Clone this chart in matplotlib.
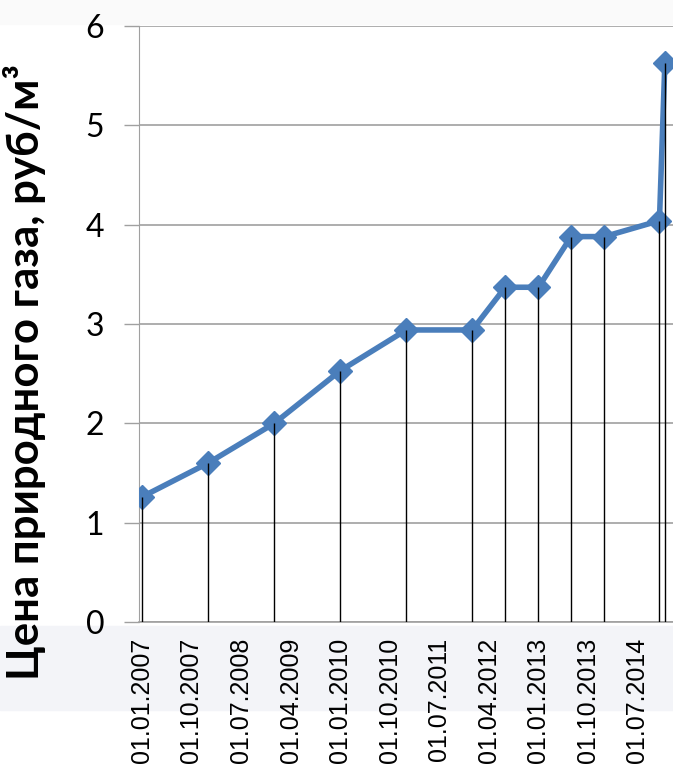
import datetime as dt
import matplotlib
matplotlib.use("Agg")
import matplotlib.pyplot as plt
from matplotlib.patches import Rectangle

# gas price by date (rub / m3)
dates = ["01.01.2007", "01.01.2008", "01.01.2009", "01.01.2010", "01.01.2011",
         "01.01.2012", "01.07.2012", "01.01.2013", "01.07.2013", "01.01.2014",
         "01.11.2014", "01.12.2014"]
prices = [1.26, 1.60, 2.00, 2.53, 2.94, 2.94, 3.37, 3.37, 3.88, 3.88, 4.04, 5.63]

tick_dates = ["01.01.2007", "01.10.2007", "01.07.2008", "01.04.2009", "01.01.2010",
              "01.10.2010", "01.07.2011", "01.04.2012", "01.01.2013", "01.10.2013",
              "01.07.2014"]
y_ticks = [0, 1, 2, 3, 4, 5, 6]
ylabel = "Цена природного газа, руб/м³"

x = [dt.datetime.strptime(d, "%d.%m.%Y") for d in dates]
xt = [dt.datetime.strptime(d, "%d.%m.%Y") for d in tick_dates]

fig = plt.figure(figsize=(6.73, 7.73), dpi=100)
fig.patch.set_facecolor("white")
# slide background bands
fig.patches.append(Rectangle((0, 1 - 710 / 773), 1, (710 - 626) / 773,
                             transform=fig.transFigure, color="#f3f4f8", zorder=-10))
fig.patches.append(Rectangle((0, 1 - 24 / 773), 1, 24 / 773,
                             transform=fig.transFigure, color="#fafafa", zorder=-10))

ax = fig.add_axes([139 / 673, 1 - 622 / 773, 1 - 139 / 673, (622 - 26) / 773])
ax.set_facecolor("white")

ax.plot(x, prices, color="#4a7ebb", lw=4, marker="D", ms=12,
        markeredgecolor="#4a7ebb", zorder=3, clip_on=True)
ax.vlines(x, 0, prices, color="black", lw=1, zorder=4)

left = dt.datetime(2006, 12, 15)
ax.set_xlim(left, left + dt.timedelta(days=2953))
ax.set_ylim(0, 6)

ax.set_xticks(xt)
ax.set_xticklabels(tick_dates, rotation=90, fontsize=18, family="Liberation Sans",
                   va="top", ha="center")
ax.tick_params(axis="x", length=0, pad=11)

ax.set_yticks(y_ticks)
ax.set_yticklabels([str(v) for v in y_ticks], fontsize=23, family="Lato")
ax.tick_params(axis="y", length=11, width=1, color="#a0a0a0", pad=14)

ax.grid(axis="y", color="#a0a0a0", lw=1.2)
ax.set_axisbelow(True)

for s in ["top", "right"]:
    ax.spines[s].set_visible(False)
ax.spines["left"].set_color("#a0a0a0")
ax.spines["bottom"].set_color("#a0a0a0")
ax.spines["bottom"].set_linewidth(1.2)

ax.set_ylabel(ylabel, fontsize=31.5, fontweight="bold", family="Lato")
ax.yaxis.set_label_coords(-0.175, 0.42)

fig.savefig("out.png", dpi=100)
